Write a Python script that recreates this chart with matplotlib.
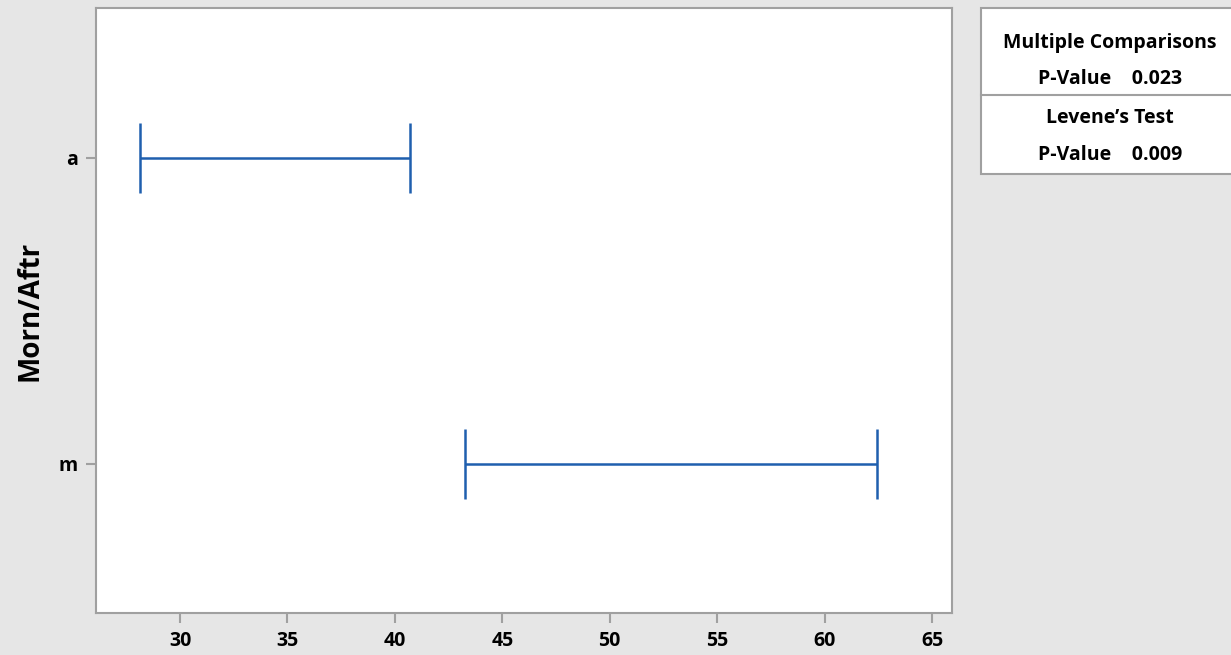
import matplotlib
matplotlib.use("Agg")
import matplotlib.pyplot as plt
from matplotlib.patches import Rectangle
from matplotlib.lines import Line2D

# Interval data (Bonferroni-style intervals for StDev)
groups = ["m", "a"]
lower = [43.26, 28.14]
upper = [62.43, 40.70]
x_ticks = [30, 35, 40, 45, 50, 55, 60, 65]
mc_pvalue = "0.023"
levene_pvalue = "0.009"

plt.rcParams["font.family"] = ["Open Sans", "DejaVu Sans"]

bg = "#e6e6e6"
spine_col = "#a0a0a0"
blue = "#1f5fae"

fig = plt.figure(figsize=(12.31, 6.55), dpi=100, facecolor=bg)
ax = fig.add_axes([96 / 1231, 1 - 613 / 655, (952 - 96) / 1231, (613 - 8) / 655])
ax.set_facecolor("white")

ypos = list(range(1, len(groups) + 1))
cap = 0.115
for y, lo, hi in zip(ypos, lower, upper):
    ax.plot([lo, hi], [y, y], color=blue, lw=1.8, solid_capstyle="butt")
    ax.plot([lo, lo], [y - cap, y + cap], color=blue, lw=1.8, solid_capstyle="butt")
    ax.plot([hi, hi], [y - cap, y + cap], color=blue, lw=1.8, solid_capstyle="butt")

ax.set_xlim(26.09, 65.93)
ax.set_ylim(0.513, 2.49)
ax.set_xticks(x_ticks)
ax.set_xticklabels([str(t) for t in x_ticks], fontsize=14, fontweight="bold")
ax.set_yticks(ypos)
ax.set_yticklabels(groups, fontsize=14, fontweight="bold")
ax.tick_params(axis="both", color=spine_col, length=7, width=1.5, pad=6)
for s in ax.spines.values():
    s.set_color(spine_col)
    s.set_linewidth(1.5)

ax.set_ylabel("Morn/Aftr", fontsize=20, fontweight="bold")
ax.yaxis.set_label_coords((45 - 96) / 856, 0.5)

# Summary table on the right
W, H = 1231, 655
def fx(px):
    return px / W
def fy(py):
    return 1 - py / H

box = Rectangle((fx(981), fy(174)), fx(1240) - fx(981), fy(8) - fy(174),
                transform=fig.transFigure, facecolor="white", edgecolor=spine_col,
                lw=1.5, clip_on=False)
fig.patches.append(box)
fig.lines.append(Line2D([fx(981), fx(1231)], [fy(95), fy(95)], transform=fig.transFigure,
                        color=spine_col, lw=1.5))

cx = fx(1110)
kw = dict(ha="center", va="center", fontsize=14, fontweight="bold")
fig.text(cx, fy(43), "Multiple Comparisons", **kw)
fig.text(cx, fy(79), f"P-Value    {mc_pvalue}", **kw)
fig.text(cx, fy(118), "Levene\u2019s Test", **kw)
fig.text(cx, fy(155), f"P-Value    {levene_pvalue}", **kw)

fig.savefig("out.png", dpi=100, facecolor=bg)
